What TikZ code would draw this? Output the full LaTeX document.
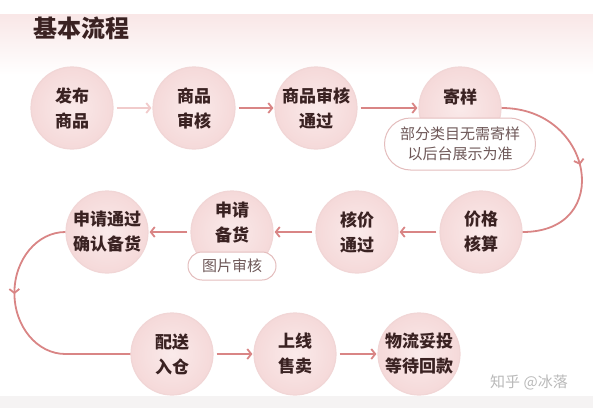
\documentclass[tikz,border=0pt]{standalone}
\usepackage{fontspec}
\setmainfont{Noto Sans CJK SC}
\usepackage{tikz}
\usetikzlibrary{arrows.meta,decorations.markings,shapes.misc}

\definecolor{ink}{HTML}{3A2222}
\definecolor{discin}{HTML}{FAEAEA}
\definecolor{discout}{HTML}{F5D9D9}
\definecolor{discrim}{HTML}{F1D6D6}
\definecolor{flow}{HTML}{D98585}
\definecolor{flowpale}{HTML}{F1CBCB}
\definecolor{pillink}{HTML}{6E5858}
\definecolor{pillrim}{HTML}{E4BDBD}
\definecolor{bandtop}{HTML}{F9E7E7}
\definecolor{footband}{HTML}{F5F3F3}

\begin{document}
\begin{tikzpicture}[x=1pt, y=1pt,
  disc/.style={circle, minimum size=82pt, inner sep=0pt, inner color=discin, outer color=discout,
    draw=discrim, line width=1.2pt, align=center, text=ink, font=\fontsize{17}{25}\selectfont\bfseries},
  disctext/.style={align=center, text=ink, font=\fontsize{17}{25}\selectfont\bfseries},
  pill/.style={rounded rectangle, fill=white, draw=pillrim, line width=1pt, inner sep=0pt,
    align=center, text=pillink, font=\fontsize{15}{20}\selectfont},
  flowline/.style={draw=flow, line width=1.8pt, shorten <=3pt, shorten >=1pt,
    -{Straight Barb[length=4pt,width=10pt]}},
  paleline/.style={flowline, draw=flowpale},
  bendline/.style={draw=flow, line width=1.8pt, postaction={decorate},
    decoration={markings, mark=at position #1 with {\arrow[flow]{Straight Barb[length=4pt,width=10pt]}}}}]

\useasboundingbox (0,0) rectangle (593,408);
\fill[top color=bandtop, bottom color=white] (0,333) rectangle (593,393);
\fill[footband] (0,0) rectangle (593,12);

\node[text=ink, font=\fontsize{24}{28}\selectfont\bfseries] (title) at (81,380) {基本流程};

\node[disc] (fabu) at (72,300) {发布\\商品};
\node[disc] (shenhe) at (194,300) {商品\\审核};
\node[disc] (tongguo) at (316,300) {商品审核\\通过};
\node[disc, label={[disctext, yshift=11pt]center:寄样}] (jiyang) at (460,300) {};

\node[disc] (jiage) at (481,176) {价格\\核算};
\node[disc] (hejia) at (357,176) {核价\\通过};
\node[disc, label={[disctext, yshift=9pt]center:申请\\备货}] (beihuo) at (232,176) {};
\node[disc] (shentong) at (107,176) {申请通过\\确认备货};

\node[disc] (peisong) at (172,54) {配送\\入仓};
\node[disc] (shangxian) at (295,54) {上线\\售卖};
\node[disc] (wuliu) at (419,54) {物流妥投\\等待回款};

\node[pill, minimum width=151pt, minimum height=52pt] (yangnote) at (460,264) {部分类目无需寄样\\以后台展示为准};
\node[pill, minimum width=88pt, minimum height=28pt] (tunote) at (232,142) {图片审核};

\draw[paleline] (fabu) -- (shenhe);
\draw[flowline] (shenhe) -- (tongguo);
\draw[flowline] (tongguo) -- (jiyang);
\draw[bendline=0.5] (jiyang.east) .. controls +(92,0) and +(92,0) .. (jiage.east);
\draw[flowline] (jiage) -- (hejia);
\draw[flowline] (hejia) -- (beihuo);
\draw[flowline] (beihuo) -- (shentong);
\draw[bendline=0.37] (shentong.west) arc[start angle=90, end angle=270, x radius=51, y radius=61] -- (peisong.west);
\draw[flowline] (peisong) -- (shangxian);
\draw[flowline] (shangxian) -- (wuliu);

\node[text=gray!55, font=\fontsize{15}{18}\selectfont] (mark) at (529,26) {知乎 @冰落};
\end{tikzpicture}
\end{document}
